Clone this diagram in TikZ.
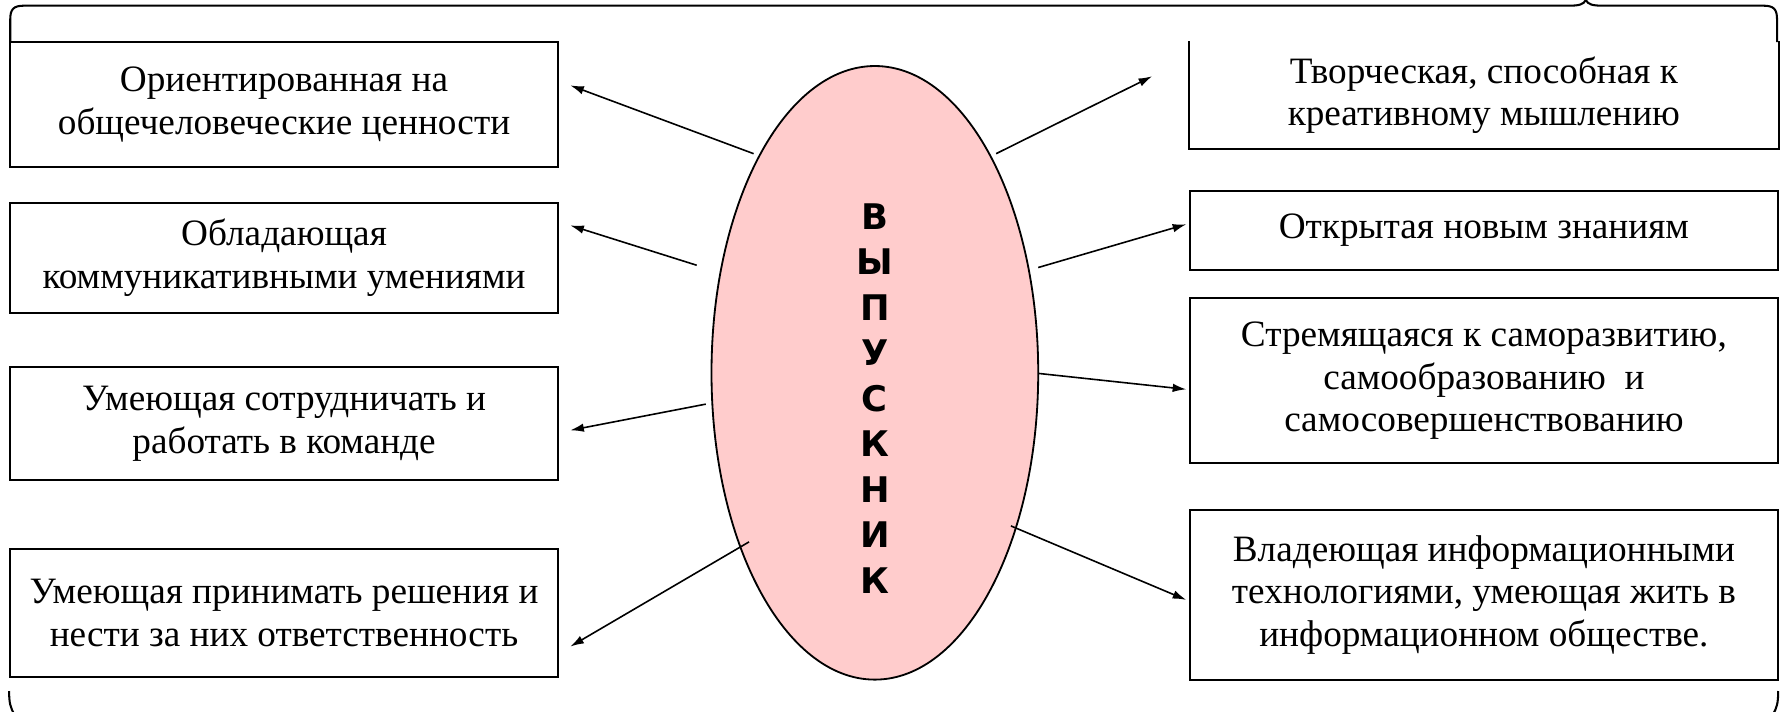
\documentclass[tikz,border=0pt]{standalone}
\usepackage{fontspec}
\setmainfont{Liberation Serif}
\newfontfamily\lettersfont{DejaVu Sans}
\usetikzlibrary{shapes.geometric,arrows.meta}

\definecolor{blush}{RGB}{255,204,204}
\tikzset{
  quality/.style={draw, line width=1.8pt, align=center, inner sep=0pt,
    font=\fontsize{32.7}{37.5}\selectfont},
  spoke/.style={-{Latex[length=12pt,width=7.5pt]}, line width=1.4pt},
  frame/.style={line width=1.8pt},
}

\begin{document}
\begin{tikzpicture}[x=1pt,y=-1pt]
    \useasboundingbox (0,0) rectangle (1568,625.4);
    % outer brace
    \draw[frame] (9,37) -- (9,17) .. controls (9,8) and (12,5) .. (21,5) -- (1378,5)
    .. controls (1387,5) and (1391,4) .. (1393,0) .. controls (1395,4) and (1399,5) .. (1408,5)
    -- (1549,5) .. controls (1558,5) and (1561,8) .. (1561,17) -- (1561,37);
    \draw[frame] (8,607) .. controls (8,617) and (9,622) .. (13,628);
    \draw[frame] (1562,607) .. controls (1562,617) and (1561,622) .. (1557,628);
    % left column
    \node[quality, minimum width=481pt, minimum height=110pt] (l1) at (249.5,92)
      {Ориентированная на\\общечеловеческие ценности};
    \node[quality, minimum width=481pt, minimum height=97pt] (l2) at (249.5,226.5)
      {Обладающая\\коммуникативными умениями};
    \node[quality, minimum width=481pt, minimum height=100pt] (l3) at (249.5,372)
      {Умеющая сотрудничать и\\работать в команде};
    \node[quality, minimum width=481pt, minimum height=113pt] (l4) at (249.5,538.5)
      {Умеющая принимать решения и\\нести за них ответственность};
    % right column
    \node[quality, draw=none, minimum width=517pt, minimum height=93pt] (r1) at (1303.5,83.5)
      {Творческая, способная к\\креативному мышлению};
    \draw[frame] (r1.north west) -- (r1.south west) -- (r1.south east) -- (r1.north east);
    \node[quality, minimum width=517pt, minimum height=69pt] (r2) at (1303.5,202.5)
      {Открытая новым знаниям};
    \node[quality, minimum width=517pt, minimum height=145pt] (r3) at (1303.5,334.5)
      {Стремящаяся к саморазвитию,\\самообразованию~ и\\самосовершенствованию};
    \node[quality, minimum width=517pt, minimum height=149pt] (r4) at (1303.5,522.5)
      {Владеющая информационными\\технологиями, умеющая жить в\\информационном обществе.};
    % centre
    \node[ellipse, draw, fill=blush, line width=1.6pt, minimum width=287pt,
      minimum height=539pt] (grad) at (768.5,327.5) {};
    \node[align=center, font=\lettersfont\bfseries\fontsize{31}{40}\selectfont] (word)
      at (768.5,350) {В\\Ы\\П\\У\\С\\К\\Н\\И\\К};
    % spokes
    \coordinate (s1) at (662,135);
    \coordinate (s2) at (612,233);
    \coordinate (s3) at (620,355);
    \coordinate (s4) at (658,476);
    \coordinate (s5) at (875,135);
    \coordinate (s6) at (912,235);
    \coordinate (s7) at (912,328);
    \coordinate (s8) at (888,462);
    \coordinate (t1) at ([shift={(10,-17)}]l1.east);
    \coordinate (t2) at ([shift={(10,-28.5)}]l2.east);
    \coordinate (t3) at ([shift={(10,6)}]l3.east);
    \coordinate (t4) at ([shift={(10,29.5)}]l4.east);
    \coordinate (t5) at ([shift={(-32,-16.5)}]r1.west);
    \coordinate (t6) at ([shift={(-2,-5.5)}]r2.west);
    \coordinate (t7) at ([shift={(-2,7.5)}]r3.west);
    \coordinate (t8) at ([shift={(-2,4.5)}]r4.west);
    \foreach \i in {1,...,8} \draw[spoke] (s\i) -- (t\i);
\end{tikzpicture}
\end{document}
